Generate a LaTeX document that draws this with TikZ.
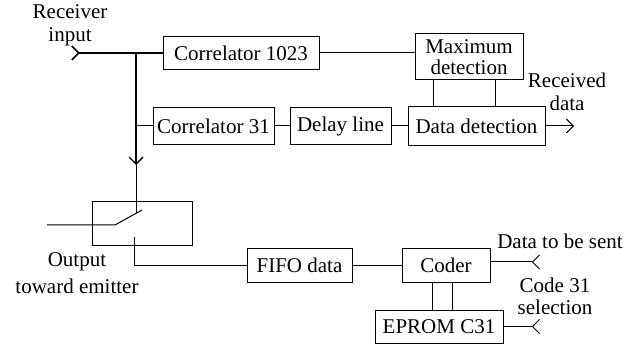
\documentclass[tikz,border=0pt]{standalone}
\usepackage{fontspec}
\setmainfont{Liberation Serif}
\usetikzlibrary{arrows.meta}
\tikzset{
  barb/.tip={Straight Barb[length=7pt,width=14pt]},
  tail/.tip={Straight Barb[reversed,length=7pt,width=14pt]},
}
\begin{document}
\begin{tikzpicture}[x=1pt,y=-1pt,
  every node/.style={font=\fontsize{21}{23}\selectfont, inner sep=0pt},
  blk/.style={draw, line width=1pt, minimum height=33pt},
  wire/.style={line width=1pt},
 ]
\useasboundingbox (0,0) rectangle (634,347);

% blocks
\node[blk, minimum width=156pt] (c1023) at (241,53) {Correlator 1023};
\node[blk, minimum width=108pt, minimum height=46pt, align=center,
      font=\fontsize{21}{21}\selectfont] (maxdet) at (469,57) {Maximum\\detection};
\node[blk, minimum width=121pt, minimum height=37pt] (c31) at (213.5,126) {Correlator 31};
\node[blk, minimum width=101pt, minimum height=37pt] (delay) at (340.5,126) {Delay line};
\node[blk, minimum width=137pt, minimum height=39pt] (datadet) at (476.5,126) {Data detection};
\node[blk, minimum width=100pt, minimum height=44pt] (sw) at (142,224) {};
\node[blk, minimum width=105pt] (fifo) at (299.5,265.5) {FIFO data};
\node[blk, minimum width=88pt, minimum height=34pt] (coder) at (446,265.5) {Coder};
\node[blk, minimum width=128pt] (eprom) at (439,326.5) {EPROM C31};

% labels
\node[align=center] (rxin) at (70,25) {Receiver\\input};
\node[align=center] (rdata) at (567,92) {Received\\data};
\node[align=center, font=\fontsize{21}{27}\selectfont] (outlbl) at (77,273) {Output\\toward emitter};
\node[anchor=base] (dtslbl) at (560,249) {Data to be sent};
\node[align=center, font=\fontsize{21}{22}\selectfont] (sellbl) at (555,296) {Code 31\\selection};

% helper coordinates
\coordinate (in) at (71,53);
\coordinate (tap) at (136,53);
\coordinate (arr) at (136,165);
\coordinate (swin) at (136,213);
\coordinate (swl) at (47,225);
\coordinate (swk) at (115,225);
\coordinate (swt) at (142,210);
\coordinate (swo) at (134,237);
\coordinate (rx) at (574,126);
\coordinate (m1) at (433,0);
\coordinate (m2) at (495,0);
\coordinate (e1) at (432,0);
\coordinate (e2) at (452,0);
\coordinate (dts) at (540,262);
\coordinate (sel) at (540,327);

% receive path
\draw[line width=1.6pt, {tail}-] (in) -- (c1023.west);
\draw[wire] (c1023.east) -- (c1023.east -| maxdet.west);
\draw[line width=1.4pt, -{barb}] (tap) -- (arr);
\draw[wire] (arr) -- (swin);
\draw[wire] (tap |- c31.west) -- (c31.west);
\draw[wire] (c31.east) -- (delay.west);
\draw[wire] (delay.east) -- (datadet.west);
\draw[wire] (m1 |- maxdet.south) -- (m1 |- datadet.north);
\draw[wire] (m2 |- maxdet.south) -- (m2 |- datadet.north);
\draw[wire, -{barb}] (datadet.east) -- (rx);

% switch
\draw[wire] (swl) -- (swk) -- (swt);
\draw[wire] (swo) |- (fifo.west);

% transmit path
\draw[wire] (fifo.east) -- (fifo.east -| coder.west);
\draw[wire, -{tail}] (dts -| coder.east) -- (dts);
\draw[wire] (e1 |- coder.south) -- (e1 |- eprom.north);
\draw[wire] (e2 |- coder.south) -- (e2 |- eprom.north);
\draw[wire, -{tail}] (eprom.east) -- (eprom.east -| sel);
\end{tikzpicture}
\end{document}
